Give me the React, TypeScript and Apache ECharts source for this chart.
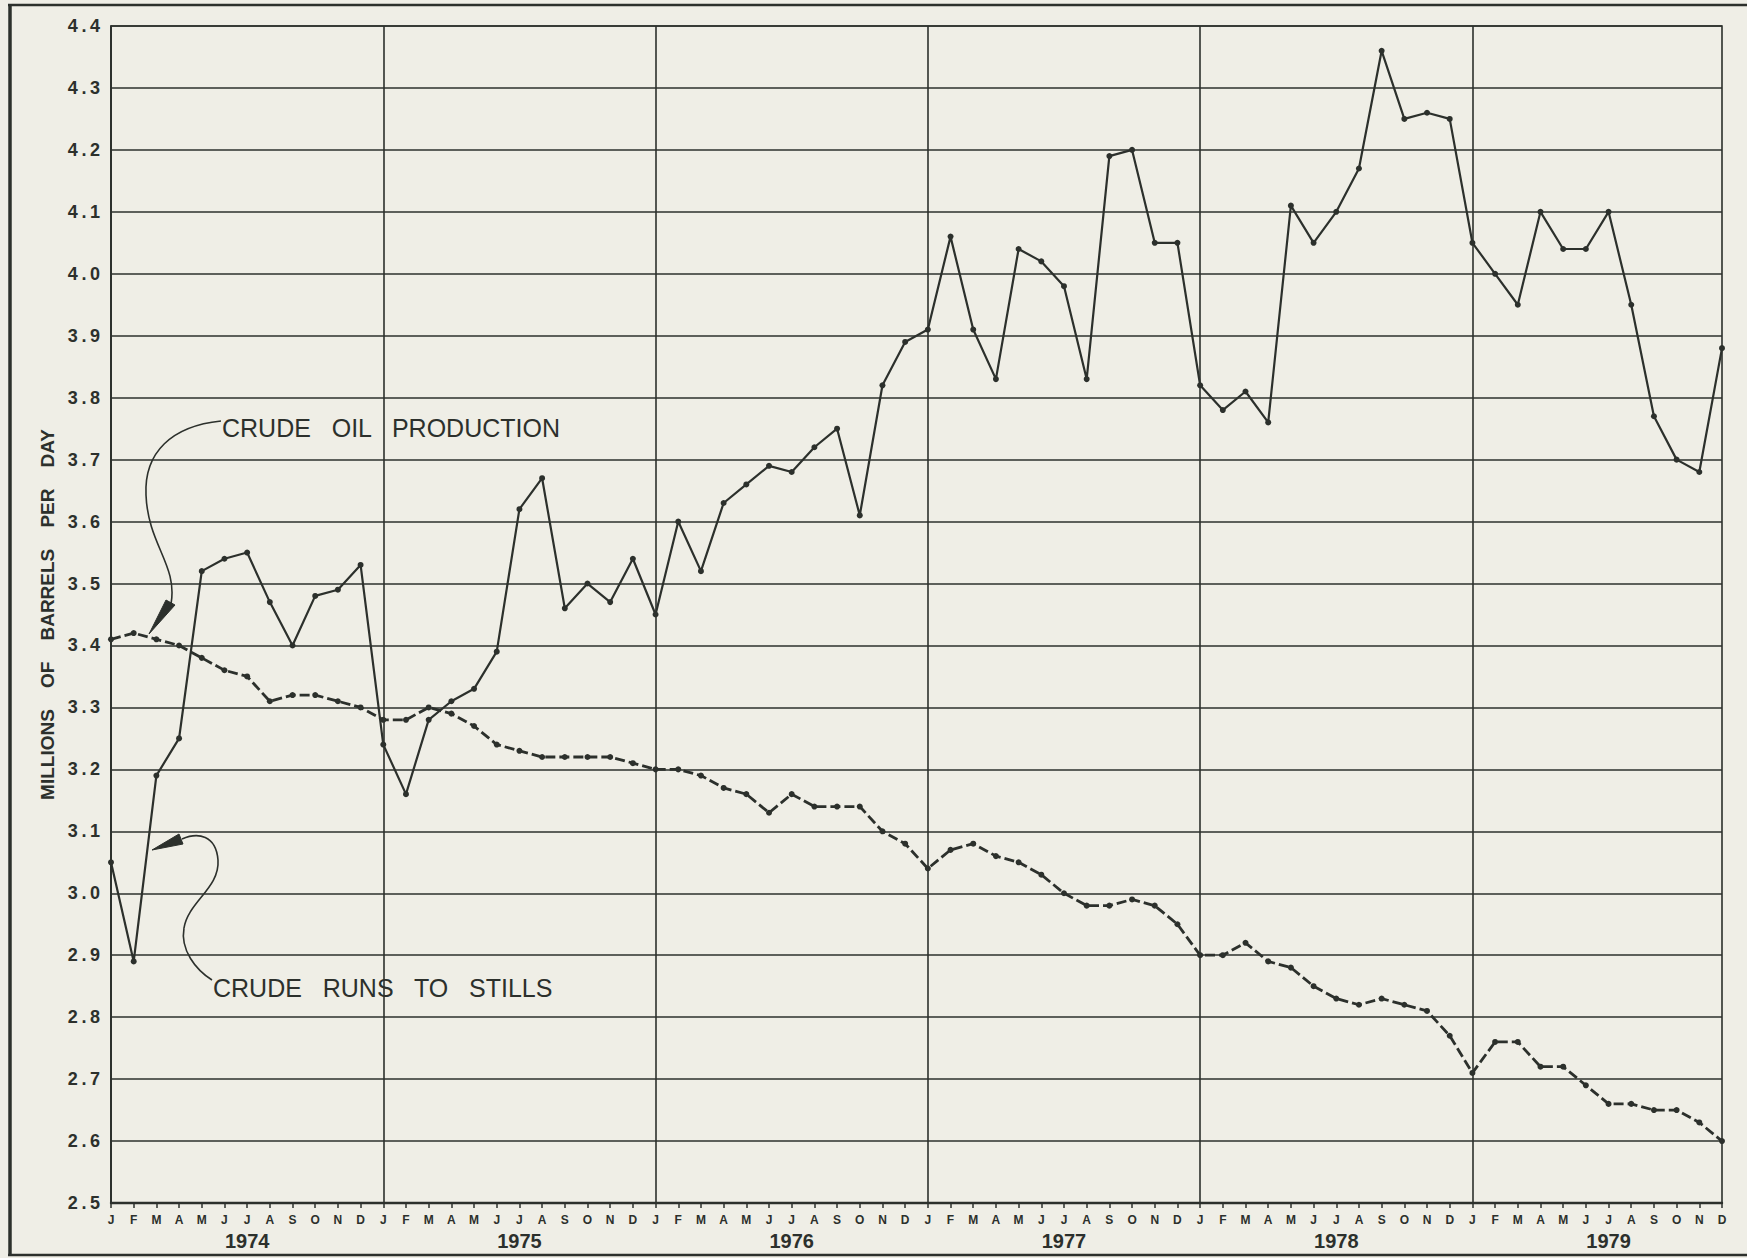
import React, { useEffect, useRef } from 'react';
import * as echarts from 'echarts';

// ---------- data ----------
const MONTH_LETTERS = ['J', 'F', 'M', 'A', 'M', 'J', 'J', 'A', 'S', 'O', 'N', 'D'];
const YEARS = [1974, 1975, 1976, 1977, 1978, 1979];

// Crude runs to stills (solid line), millions of barrels per day
const runsToStills = [
  3.05, 2.89, 3.19, 3.25, 3.52, 3.54, 3.55, 3.47, 3.40, 3.48, 3.49, 3.53, // 1974
  3.24, 3.16, 3.28, 3.31, 3.33, 3.39, 3.62, 3.67, 3.46, 3.50, 3.47, 3.54, // 1975
  3.45, 3.60, 3.52, 3.63, 3.66, 3.69, 3.68, 3.72, 3.75, 3.61, 3.82, 3.89, // 1976
  3.91, 4.06, 3.91, 3.83, 4.04, 4.02, 3.98, 3.83, 4.19, 4.20, 4.05, 4.05, // 1977
  3.82, 3.78, 3.81, 3.76, 4.11, 4.05, 4.10, 4.17, 4.36, 4.25, 4.26, 4.25, // 1978
  4.05, 4.00, 3.95, 4.10, 4.04, 4.04, 4.10, 3.95, 3.77, 3.70, 3.68, 3.88, // 1979
];

// Crude oil production (dashed line), millions of barrels per day
const crudeProduction = [
  3.41, 3.42, 3.41, 3.40, 3.38, 3.36, 3.35, 3.31, 3.32, 3.32, 3.31, 3.30, // 1974
  3.28, 3.28, 3.30, 3.29, 3.27, 3.24, 3.23, 3.22, 3.22, 3.22, 3.22, 3.21, // 1975
  3.20, 3.20, 3.19, 3.17, 3.16, 3.13, 3.16, 3.14, 3.14, 3.14, 3.10, 3.08, // 1976
  3.04, 3.07, 3.08, 3.06, 3.05, 3.03, 3.00, 2.98, 2.98, 2.99, 2.98, 2.95, // 1977
  2.90, 2.90, 2.92, 2.89, 2.88, 2.85, 2.83, 2.82, 2.83, 2.82, 2.81, 2.77, // 1978
  2.71, 2.76, 2.76, 2.72, 2.72, 2.69, 2.66, 2.66, 2.65, 2.65, 2.63, 2.60, // 1979
];

const Y_MIN = 2.5;
const Y_MAX = 4.4;
const Y_STEP = 0.1;

const categories = YEARS.flatMap((y) => MONTH_LETTERS.map((_, i) => `${y}-${i + 1}`));

// ---------- styles ----------
const INK = '#2c302c';
const PAPER = '#efeee6';
const FONT = '"Liberation Sans", "DejaVu Sans", sans-serif';

export default function App() {
  const ref = useRef<HTMLDivElement>(null);

  useEffect(() => {
    if (!ref.current) return;
    const chart = echarts.init(ref.current, null, { renderer: 'svg' });

    const spaced = (s: string) => s.split('').join('\u2009');

    const option: any = {
      animation: false,
      backgroundColor: PAPER,
      grid: {
        left: 111,
        top: 26,
        width: 1611,
        height: 1177,
        show: true,
        borderColor: INK,
        borderWidth: 1.6,
        containLabel: false,
      },
      xAxis: {
        type: 'category',
        data: categories,
        boundaryGap: false,
        axisLine: { show: true, lineStyle: { color: INK, width: 2.4 } },
        axisTick: {
          show: true,
          interval: 0,
          length: 5,
          lineStyle: { color: INK, width: 1.5 },
        },
        axisLabel: {
          interval: 0,
          margin: 9,
          color: INK,
          fontFamily: FONT,
          formatter: (_v: string, idx: number) => {
            const m = MONTH_LETTERS[idx % 12];
            if (idx % 12 === 6) {
              const y = YEARS[Math.floor(idx / 12)];
              return `{m|${m}}\n{y|${y}}`;
            }
            return `{m|${m}}`;
          },
          rich: {
            m: { fontSize: 12, fontWeight: 'bold', color: INK, fontFamily: FONT, lineHeight: 16 },
            y: { fontSize: 20, fontWeight: 'bold', color: INK, fontFamily: FONT, lineHeight: 24, padding: [2, 0, 0, 0] },
          },
        },
        splitLine: {
          show: true,
          interval: (idx: number) => idx % 12 === 0,
          lineStyle: { color: INK, width: 1.6 },
        },
      },
      yAxis: {
        type: 'value',
        min: Y_MIN,
        max: Y_MAX,
        interval: Y_STEP,
        name: 'MILLIONS    OF    BARRELS    PER    DAY',
        nameLocation: 'middle',
        nameGap: 54,
        nameTextStyle: { color: INK, fontFamily: FONT, fontSize: 19, fontWeight: 'bold' },
        axisLine: { show: true, lineStyle: { color: INK, width: 1.6 } },
        axisTick: { show: false },
        axisLabel: {
          color: INK,
          fontFamily: FONT,
          fontSize: 18,
          fontWeight: 'bold',
          margin: 11,
          formatter: (v: number) => spaced(v.toFixed(1)),
        },
        splitLine: { show: true, lineStyle: { color: INK, width: 1.6 } },
      },
      series: [
        {
          name: 'Crude Runs to Stills',
          type: 'line',
          data: runsToStills,
          symbol: 'circle',
          symbolSize: 6,
          lineStyle: { color: INK, width: 2.2 },
          itemStyle: { color: INK },
          z: 3,
        },
        {
          name: 'Crude Oil Production',
          type: 'line',
          data: crudeProduction,
          symbol: 'circle',
          symbolSize: 6,
          lineStyle: { color: INK, width: 2.8, type: [10, 4] },
          itemStyle: { color: INK },
          z: 3,
        },
      ],
      graphic: [
        // outer frame
        { type: 'line', shape: { x1: 10, y1: 4, x2: 10, y2: 1256 }, style: { stroke: INK, lineWidth: 3.5 } },
        { type: 'line', shape: { x1: 8, y1: 5, x2: 1747, y2: 5 }, style: { stroke: INK, lineWidth: 2.5 } },
        { type: 'line', shape: { x1: 8, y1: 1255, x2: 1747, y2: 1255 }, style: { stroke: INK, lineWidth: 2.5 } },
        // annotation: crude oil production
        {
          type: 'text',
          left: 222,
          top: 415,
          style: { text: 'CRUDE   OIL   PRODUCTION', fill: INK, font: `25px ${FONT}` },
        },
        {
          type: 'bezierCurve',
          shape: { x1: 221, y1: 421, x2: 146, y2: 495, cpx1: 172, cpy1: 426, cpx2: 144, cpy2: 452 },
          style: { stroke: INK, lineWidth: 1.6, fill: 'none' },
        },
        {
          type: 'bezierCurve',
          shape: { x1: 146, y1: 495, x2: 171, y2: 604, cpx1: 148, cpy1: 545, cpx2: 178, cpy2: 565 },
          style: { stroke: INK, lineWidth: 1.6, fill: 'none' },
        },
        {
          type: 'polygon',
          shape: { points: [[149, 634], [175, 605], [166, 600]] },
          style: { fill: INK, stroke: INK, lineWidth: 1 },
        },
        // annotation: crude runs to stills
        {
          type: 'text',
          left: 213,
          top: 975,
          style: { text: 'CRUDE   RUNS   TO   STILLS', fill: INK, font: `25px ${FONT}` },
        },
        {
          type: 'bezierCurve',
          shape: { x1: 212, y1: 980, x2: 184, y2: 928, cpx1: 196, cpy1: 970, cpx2: 180, cpy2: 950 },
          style: { stroke: INK, lineWidth: 1.6, fill: 'none' },
        },
        {
          type: 'bezierCurve',
          shape: { x1: 184, y1: 928, x2: 218, y2: 860, cpx1: 188, cpy1: 902, cpx2: 220, cpy2: 888 },
          style: { stroke: INK, lineWidth: 1.6, fill: 'none' },
        },
        {
          type: 'bezierCurve',
          shape: { x1: 218, y1: 860, x2: 182, y2: 839, cpx1: 216, cpy1: 835, cpx2: 198, cpy2: 832 },
          style: { stroke: INK, lineWidth: 1.6, fill: 'none' },
        },
        {
          type: 'polygon',
          shape: { points: [[152, 850], [183, 844], [179, 834]] },
          style: { fill: INK, stroke: INK, lineWidth: 1 },
        },
      ],
    };

    chart.setOption(option);
    return () => chart.dispose();
  }, []);

  return (
    <div
      ref={ref}
      style={{ position: 'absolute', left: 0, top: 0, width: 1747, height: 1258, background: PAPER }}
    />
  );
}
